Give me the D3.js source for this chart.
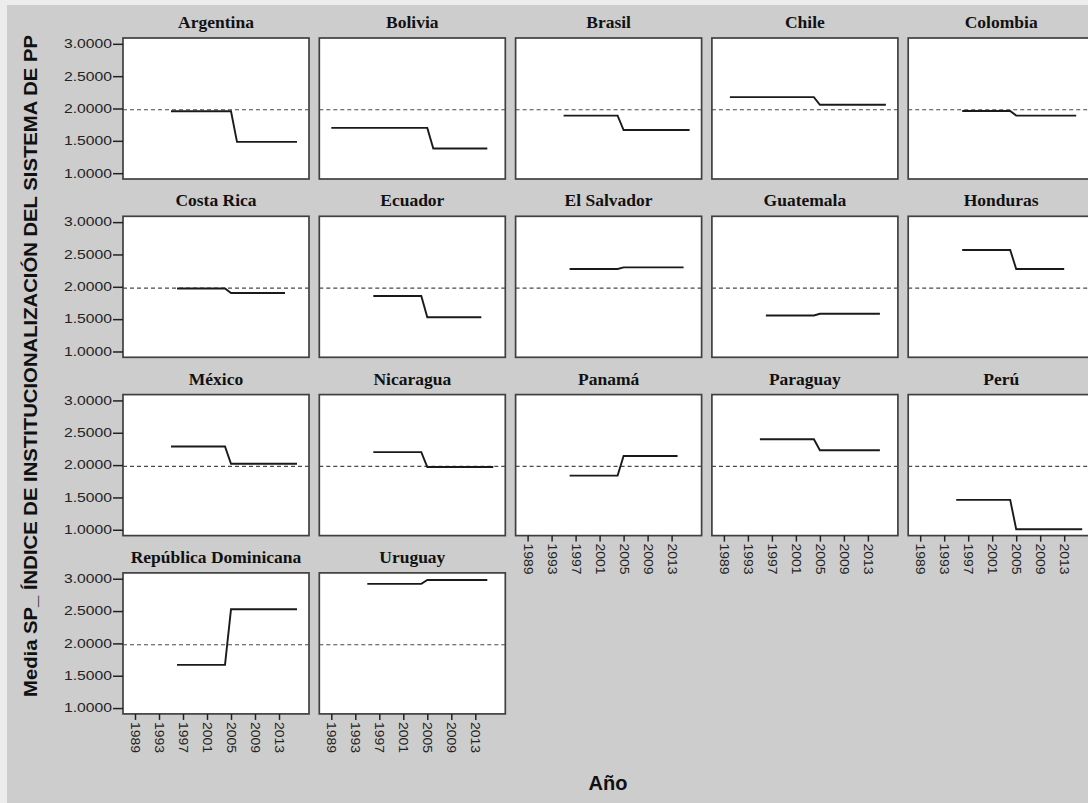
<!DOCTYPE html>
<html>
<head>
<meta charset="utf-8">
<script src="https://cdn.jsdelivr.net/npm/d3@7"></script>
<style>
  html, body { margin: 0; padding: 0; background: #ececec; }
  svg { display: block; }
</style>
</head>
<body>
<svg id="chart" width="1088" height="803"></svg>
<script>
// ---- Data ----
const countries = ["Argentina","Bolivia","Brasil","Chile","Colombia",
  "Costa Rica","Ecuador","El Salvador","Guatemala","Honduras",
  "México","Nicaragua","Panamá","Paraguay","Perú",
  "República Dominicana","Uruguay"];
const startYear = [1995,1989,1995,1990,1996, 1996,1996,1996,1996,1996, 1995,1996,1996,1995,1995, 1996,1995];
const breakYear = [2005,2005,2004,2004,2004, 2004,2004,2004,2004,2004, 2004,2004,2004,2004,2004, 2004,2004];
const endYear   = [2016,2015,2016,2016,2015, 2014,2014,2015,2015,2013, 2016,2016,2014,2015,2016, 2016,2015];
const valueBefore = [1.957,1.700,1.890,2.176,1.962, 1.974,1.858,2.275,1.557,2.570, 2.288,2.200,1.838,2.400,1.462, 1.668,2.920];
const valueAfter  = [1.484,1.382,1.667,2.058,1.890, 1.904,1.530,2.300,1.583,2.275, 2.020,1.970,2.140,2.230,1.008, 2.527,2.980];
const referenceValue = 1.98;
const yTicks = [1.0, 1.5, 2.0, 2.5, 3.0];
const xTicks = [1989, 1993, 1997, 2001, 2005, 2009, 2013];
const yTitle = "Media SP_ ÍNDICE DE INSTITUCIONALIZACIÓN DEL SISTEMA DE PP";
const xTitle = "Año";

// ---- Layout ----
const nCols = 5;
const originX = 123, originY = 38;
const pitchX = 196.3, pitchY = 178.3;
const pw = 186, ph = 141;

const svg = d3.select("#chart");
svg.append("rect").attr("x", 0).attr("y", 0).attr("width", 1088).attr("height", 803).attr("fill", "#ececec");
svg.append("rect").attr("x", 7).attr("y", 5).attr("width", 1081).attr("height", 798).attr("fill", "#cdcdcd");

const x = d3.scaleLinear().domain([1987, 2018]).range([0, pw]);
const y = d3.scaleLinear().domain([0.91, 3.09]).range([ph, 0]);

const line = d3.line().x(d => x(d[0])).y(d => y(d[1]));

countries.forEach((name, i) => {
  const col = i % nCols, row = Math.floor(i / nCols);
  const g = svg.append("g")
    .attr("transform", `translate(${originX + col * pitchX},${originY + row * pitchY})`);

  // title
  g.append("text")
    .attr("x", pw / 2).attr("y", -10)
    .attr("text-anchor", "middle")
    .attr("font-family", "'Liberation Serif', 'Times New Roman', serif")
    .attr("font-weight", "bold")
    .attr("font-size", "17.5px")
    .attr("fill", "#111")
    .text(name);

  // panel
  g.append("rect").attr("width", pw).attr("height", ph)
    .attr("fill", "#ffffff").attr("stroke", "#404040").attr("stroke-width", 1.7);

  // reference dashed line
  g.append("line")
    .attr("x1", 0).attr("x2", pw)
    .attr("y1", y(referenceValue)).attr("y2", y(referenceValue))
    .attr("stroke", "#4a4a4a").attr("stroke-width", 1.1).attr("stroke-dasharray", "4,3");

  // series
  const pts = [
    [startYear[i], valueBefore[i]],
    [breakYear[i], valueBefore[i]],
    [breakYear[i] + 1, valueAfter[i]],
    [endYear[i], valueAfter[i]]
  ];
  g.append("path").datum(pts)
    .attr("d", line).attr("fill", "none")
    .attr("stroke", "#1a1a1a").attr("stroke-width", 1.9);

  // y axis on first column
  if (col === 0) {
    const ya = g.append("g")
      .call(d3.axisLeft(y).tickValues(yTicks).tickFormat(d3.format(".4f")).tickSize(10).tickPadding(1));
    ya.select(".domain").remove();
    ya.selectAll(".tick line").attr("stroke", "#222").attr("stroke-width", 1.5);
    ya.selectAll(".tick text")
      .attr("font-family", "'Liberation Sans', Arial, sans-serif")
      .attr("font-size", "12px").attr("fill", "#222")
      .attr("textLength", 48).attr("lengthAdjust", "spacingAndGlyphs");
  }

  // x axis where there is no panel below
  if (i + nCols >= countries.length) {
    const xa = g.append("g").attr("transform", `translate(0,${ph})`)
      .call(d3.axisBottom(x).tickValues(xTicks).tickFormat(d3.format("d")).tickSize(6));
    xa.select(".domain").remove();
    xa.selectAll(".tick line").attr("stroke", "#222").attr("stroke-width", 1.5);
    xa.selectAll(".tick text")
      .attr("font-family", "'Liberation Sans', Arial, sans-serif")
      .attr("font-size", "12.5px").attr("fill", "#222")
      .attr("x", 8).attr("y", 0).attr("dy", "0.35em")
      .attr("text-anchor", "start")
      .attr("transform", "rotate(90)")
      .attr("textLength", 31).attr("lengthAdjust", "spacingAndGlyphs");
  }
});

// axis titles
svg.append("text")
  .attr("transform", "translate(37,366) rotate(-90)")
  .attr("text-anchor", "middle")
  .attr("font-family", "'Liberation Sans', Arial, sans-serif")
  .attr("font-weight", "bold").attr("font-size", "17.5px").attr("fill", "#111")
  .attr("textLength", 662).attr("lengthAdjust", "spacingAndGlyphs")
  .text(yTitle);

svg.append("text")
  .attr("x", 608).attr("y", 790)
  .attr("text-anchor", "middle")
  .attr("font-family", "'Liberation Sans', Arial, sans-serif")
  .attr("font-weight", "bold").attr("font-size", "20px").attr("fill", "#111")
  .text(xTitle);
</script>
</body>
</html>
